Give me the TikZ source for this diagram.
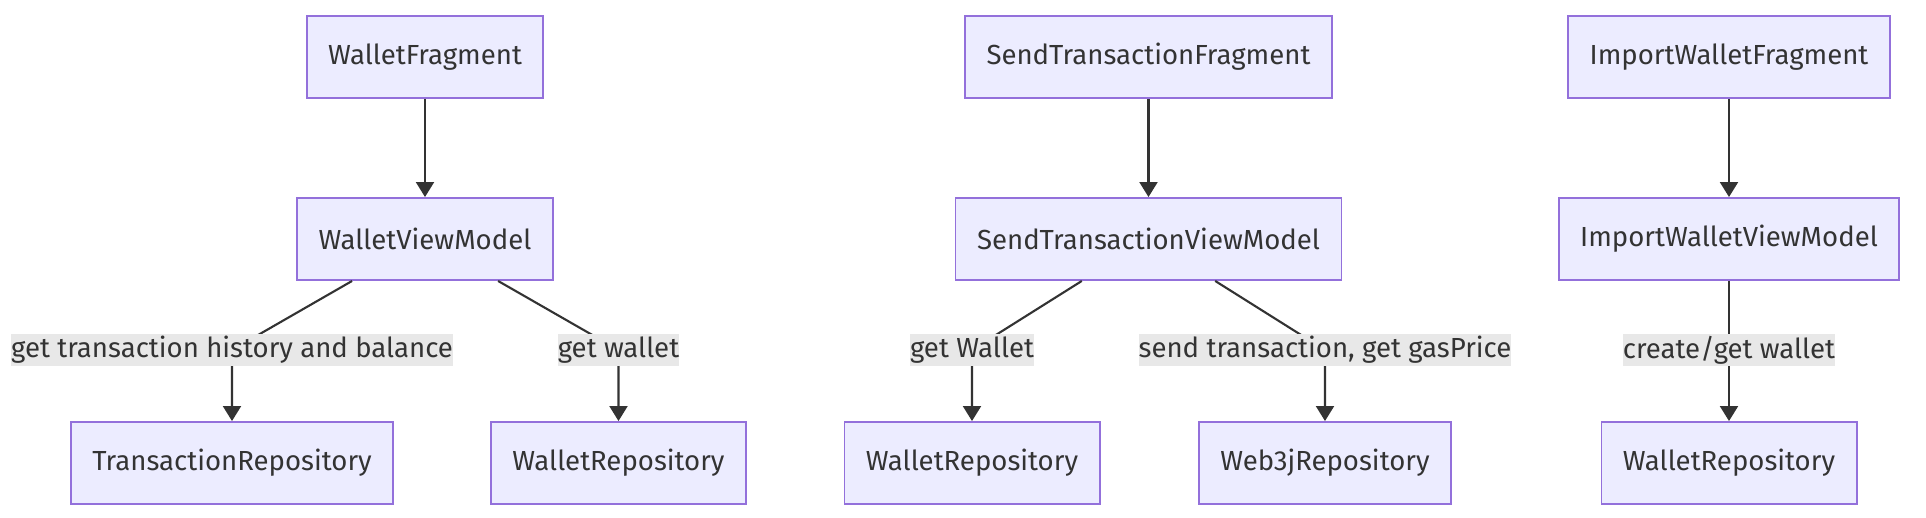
\documentclass[tikz,border=0pt]{standalone}
\usepackage{fontspec}
\setmainfont{Fira Sans}
\usetikzlibrary{arrows.meta}
\definecolor{boxfill}{HTML}{ECECFF}
\definecolor{boxline}{HTML}{9370DB}
\definecolor{ink}{HTML}{333333}
\definecolor{lblfill}{HTML}{E8E8E8}
\tikzset{
	box/.style={draw=boxline,fill=boxfill,line width=1.1pt,text=ink,inner xsep=0.43cm,minimum height=1.64cm,font=\fontsize{15.7}{18}\selectfont},
	lbl/.style={fill=lblfill,text=ink,inner xsep=0pt,inner ysep=0pt,minimum height=0.64cm,font=\fontsize{15.7}{18}\selectfont},
	arr/.style={draw=ink,line width=1.2pt,-{Triangle[length=0.3cm,width=0.36cm]}}
}
\begin{document}
\begin{tikzpicture}
	\useasboundingbox (0,0) rectangle (38.52,10.36);
	% wallet
	\node[box] (wf) at (8.5,9.22) {WalletFragment};
	\node[box] (wvm) at (8.5,5.58) {WalletViewModel};
	\node[box] (tr) at (4.64,1.1) {TransactionRepository};
	\node[box] (wra) at (12.37,1.1) {WalletRepository};
	% send transaction
	\node[box] (stf) at (22.97,9.22) {SendTransactionFragment};
	\node[box] (stvm) at (22.97,5.58) {SendTransactionViewModel};
	\node[box] (wrb) at (19.44,1.1) {WalletRepository};
	\node[box] (wjr) at (26.5,1.1) {Web3jRepository};
	% import wallet
	\node[box] (iwf) at (34.58,9.22) {ImportWalletFragment};
	\node[box] (iwvm) at (34.58,5.58) {ImportWalletViewModel};
	\node[box] (wrc) at (34.58,1.1) {WalletRepository};
	\coordinate (ca) at (4.64,3.36);
	\coordinate (cb) at (12.37,3.36);
	\coordinate (cc) at (19.44,3.36);
	\coordinate (cd) at (26.5,3.36);
	\coordinate (ce) at (34.58,3.36);
	\draw[arr] (wf)--(wvm);
	\draw[arr] (wvm)--(ca) node[lbl] (la) {get transaction history and balance} --(tr);
	\draw[arr] (wvm)--(cb) node[lbl] (lb) {get wallet} --(wra);
	\draw[arr] (stf)--(stvm);
	\draw[arr] (stvm)--(cc) node[lbl] (lc) {get Wallet} --(wrb);
	\draw[arr] (stvm)--(cd) node[lbl] (ld) {send transaction, get gasPrice} --(wjr);
	\draw[arr] (iwf)--(iwvm);
	\draw[arr] (iwvm)--(ce) node[lbl] (le) {create/get wallet} --(wrc);
\end{tikzpicture}
\end{document}
